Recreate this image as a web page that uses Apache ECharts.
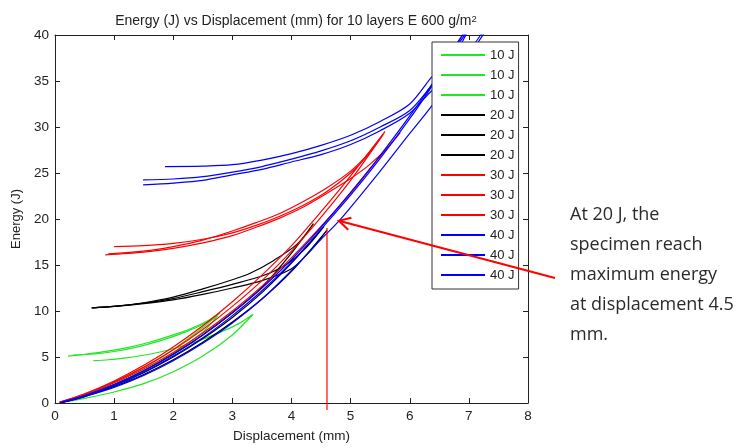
<!DOCTYPE html>
<html>
<head>
<meta charset="utf-8">
<script src="https://cdn.jsdelivr.net/npm/echarts@6/dist/echarts.min.js"></script>
<style>
html,body{margin:0;padding:0;background:#fff;}
#chart{width:740px;height:448px;}
</style>
</head>
<body>
<div id="chart"></div>
<script>
// ---- data (displacement mm, energy J): loading branch then rebound branch ----
const green1 = [[0.08,0.05],[0.5,0.9],[1,2.2],[1.5,3.8],[2,5.8],[2.5,8.2],[2.79,9.8],[2.6,9.0],[2.3,8.1],[2.0,7.4],[1.6,6.6],[1.2,6.0],[0.8,5.55],[0.5,5.3],[0.22,5.1]];
const green2 = [[0.1,0.05],[0.5,0.8],[1,2.0],[1.5,3.5],[2,5.4],[2.5,7.7],[2.75,9.5],[2.55,8.7],[2.2,7.7],[1.8,6.8],[1.4,6.1],[1,5.6],[0.6,5.3],[0.3,5.2]];
const green3 = [[0.12,0.05],[0.5,0.5],[1,1.2],[1.5,2.1],[2,3.4],[2.5,5.1],[3,7.4],[3.35,9.65],[3.1,8.6],[2.8,7.7],[2.4,6.7],[2,5.9],[1.6,5.3],[1.2,4.9],[0.9,4.7],[0.65,4.6]];
const black1 = [[0.08,0.05],[0.5,0.8],[1,2.0],[1.5,3.5],[2,5.3],[2.5,7.4],[3,9.8],[3.5,12.6],[4,16.3],[4.37,19.5],[4.1,17.3],[3.7,15.5],[3.3,14.1],[3.0,13.4],[2.5,12.4],[2,11.5],[1.5,10.9],[1,10.5],[0.62,10.35]];
const black2 = [[0.1,0.05],[0.5,0.7],[1,1.8],[1.5,3.1],[2,4.7],[2.5,6.6],[3,8.8],[3.5,11.3],[4,14.3],[4.6,18.8],[4.3,16.4],[4.0,14.6],[3.5,13.3],[3.0,12.5],[2.5,11.8],[2,11.2],[1.5,10.8],[1,10.5],[0.62,10.35]];
const black3 = [[0.1,0.05],[0.5,0.75],[1,1.9],[1.5,3.3],[2,5.0],[2.5,7.0],[3,9.3],[3.5,12.0],[4,15.2],[4.55,19.2],[4.25,16.9],[3.9,15.0],[3.5,13.8],[3.0,12.9],[2.5,12.1],[2,11.35],[1.5,10.85],[1,10.5],[0.64,10.35]];
const red1 = [[0.08,0.1],[0.5,1.0],[1,2.4],[1.5,4.1],[2,6.1],[2.5,8.4],[3,11.0],[3.5,13.9],[4,17.1],[4.5,20.8],[5,24.7],[5.58,29.5],[5.3,27.0],[5.0,25.0],[4.6,23.0],[4.2,21.5],[3.8,20.3],[3.4,19.3],[3.0,18.5],[2.5,17.8],[2.0,17.35],[1.5,17.1],[1.0,17.0]];
const red2 = [[0.08,0.1],[0.5,0.9],[1,2.2],[1.5,3.7],[2,5.5],[2.5,7.6],[3,10.0],[3.5,12.7],[4,15.8],[4.43,18.7],[5,22.8],[5.5,26.8],[5.84,29.4],[5.6,27.6],[5.3,25.8],[5.0,24.4],[4.6,22.8],[4.2,21.3],[3.8,20.1],[3.4,19.1],[3.0,18.2],[2.5,17.4],[2.0,16.8],[1.5,16.4],[0.85,16.1]];
const red3 = [[0.1,0.1],[0.5,0.95],[1,2.3],[1.5,3.9],[2,5.8],[2.5,8.0],[3,10.5],[3.5,13.3],[4,16.5],[4.5,20.2],[5,24.2],[5.55,29.2],[5.3,27.1],[5.0,25.2],[4.6,23.4],[4.2,21.9],[3.8,20.6],[3.4,19.6],[3.0,18.7],[2.5,17.7],[2.0,17.0],[1.5,16.5],[0.9,16.2]];
const blue1 = [[0.08,0.05],[0.5,0.8],[1,2.0],[1.5,3.5],[2,5.3],[2.5,7.4],[3,9.8],[3.5,12.5],[4,15.6],[4.43,18.6],[5,22.9],[5.5,26.9],[6,31.2],[6.35,34.4],[6.7,38.1],[6.95,40.6],[6.8,39.0],[6.6,36.9],[6.38,35.5],[6.0,32.5],[5.5,30.6],[5.0,29.1],[4.5,28.0],[4.0,27.1],[3.5,26.4],[3.0,25.9],[2.5,25.75],[1.86,25.7]];
const blue2 = [[0.1,0.05],[0.5,0.75],[1,1.9],[1.5,3.35],[2,5.1],[2.5,7.1],[3,9.5],[3.5,12.2],[4,15.3],[4.5,18.9],[5,22.6],[5.5,26.6],[6,30.9],[6.35,34.2],[6.7,37.8],[7.0,40.7],[6.85,38.8],[6.6,36.3],[6.38,34.6],[6.0,31.8],[5.5,30.0],[5.0,28.5],[4.5,27.4],[4.0,26.5],[3.5,25.7],[3.0,25.1],[2.5,24.6],[2.0,24.35],[1.49,24.25]];
const blue3 = [[0.12,0.05],[0.5,0.7],[1,1.7],[1.5,3.0],[2,4.6],[2.5,6.5],[3,8.7],[3.5,11.3],[4,14.4],[4.5,17.8],[4.82,19.9],[5.5,25.2],[6,29.3],[6.35,32.1],[6.8,36.2],[7.2,40.0],[7.3,40.6],[7.0,37.8],[6.7,35.6],[6.38,34.0],[6.0,31.5],[5.5,29.6],[5.0,28.1],[4.5,27.0],[4.0,26.2],[3.5,25.4],[3.0,24.8],[2.5,24.2],[2.0,23.9],[1.49,23.7]];

const seriesNames = ['10 J','10 J','10 J','20 J','20 J','20 J','30 J','30 J','30 J','40 J','40 J','40 J'];
const seriesData = [green1, green2, green3, black1, black2, black3, red1, red2, red3, blue1, blue2, blue3];
const seriesColors = ['#22e622','#22e622','#22e622','#000000','#000000','#000000','#ff0000','#ff0000','#ff0000','#0000ff','#0000ff','#0000ff'];

const xTicks = [0, 8, 1];   // min, max, interval
const yTicks = [0, 40, 5];
const peakMark = [4.6, 18.8];     // vertical marker at displacement 4.5 mm
const arrowTip = [4.8, 19.8];

const FONT = '"Liberation Sans", Arial, sans-serif';
const chart = echarts.init(document.getElementById('chart'), null, {renderer: 'canvas'});

const series = seriesData.map((d, i) => ({
  name: seriesNames[i] + ' #' + (i % 3 + 1),
  type: 'line',
  data: d,
  symbol: 'none',
  smooth: 0.3,
  clip: true,
  animation: false,
  lineStyle: {color: seriesColors[i], width: 1.2},
  itemStyle: {color: seriesColors[i]},
  xAxisIndex: 0, yAxisIndex: 0
}));

const axisCommon = {
  type: 'value',
  splitLine: {show: false},
  axisLine: {show: true, onZero: false, lineStyle: {color: '#222', width: 1}},
  axisTick: {show: true, inside: true, length: 5, lineStyle: {color: '#222'}},
};

chart.setOption({
  animation: false,
  backgroundColor: '#fff',
  title: {
    text: 'Energy (J) vs Displacement (mm) for 10 layers E 600 g/m{sup|2}',
    left: 291, top: 9, textAlign: 'center',
    textStyle: {fontFamily: FONT, fontSize: 14, fontWeight: 'normal', color: '#222',
      rich: {sup: {fontFamily: FONT, fontSize: 9.5, color: '#222', verticalAlign: 'top', lineHeight: 14, padding: [0,0,8,0]}}}
  },
  grid: {left: 55, right: 212, top: 35, bottom: 43},
  xAxis: [
    Object.assign({}, axisCommon, {position: 'bottom', min: xTicks[0], max: xTicks[1], interval: xTicks[2],
      name: 'Displacement (mm)', nameLocation: 'middle', nameGap: 26,
      nameTextStyle: {fontFamily: FONT, fontSize: 13.5, color: '#222'},
      axisLabel: {fontFamily: FONT, fontSize: 13.5, color: '#222', margin: 6}}),
    Object.assign({}, axisCommon, {position: 'top', min: xTicks[0], max: xTicks[1], interval: xTicks[2], axisLabel: {show: false}})
  ],
  yAxis: [
    Object.assign({}, axisCommon, {position: 'left', min: yTicks[0], max: yTicks[1], interval: yTicks[2],
      name: 'Energy (J)', nameLocation: 'middle', nameGap: 28,
      nameTextStyle: {fontFamily: FONT, fontSize: 13, color: '#222'},
      axisLabel: {fontFamily: FONT, fontSize: 13.5, color: '#222', margin: 6}}),
    Object.assign({}, axisCommon, {position: 'right', min: yTicks[0], max: yTicks[1], interval: yTicks[2], axisLabel: {show: false}})
  ],
  legend: {
    orient: 'vertical', left: 432, top: 42,
    padding: [6, 4, 7, 8],
    itemWidth: 44, itemHeight: 14, itemGap: 6,
    backgroundColor: '#fff', borderColor: '#333', borderWidth: 1, borderRadius: 0,
    selectedMode: false,
    itemStyle: {opacity: 0, color: 'rgba(0,0,0,0)', borderWidth: 0},
    formatter: n => n.split(' #')[0],
    textStyle: {fontFamily: FONT, fontSize: 13, color: '#222', lineHeight: 14}
  },
  series: series
});

// annotation overlay
const pBase = chart.convertToPixel({xAxisIndex: 0, yAxisIndex: 0}, [peakMark[0], 0]);
const pTop = chart.convertToPixel({xAxisIndex: 0, yAxisIndex: 0}, peakMark);
const tip = chart.convertToPixel({xAxisIndex: 0, yAxisIndex: 0}, arrowTip);
const tail = [555, 278];
const ang = Math.atan2(tail[1] - tip[1], tail[0] - tip[0]);
const wl = 13, wa = 0.5;
const w1 = [tip[0] + wl * Math.cos(ang + wa), tip[1] + wl * Math.sin(ang + wa)];
const w2 = [tip[0] + wl * Math.cos(ang - wa), tip[1] + wl * Math.sin(ang - wa)];
const red = {stroke: '#f00', lineWidth: 2};

chart.setOption({
  graphic: [
    {type: 'line', z: 100, shape: {x1: pBase[0], y1: pBase[1] + 7, x2: pTop[0], y2: pTop[1] - 2}, style: {stroke: '#f00', lineWidth: 1.2}},
    {type: 'line', z: 100, shape: {x1: tail[0], y1: tail[1], x2: tip[0], y2: tip[1]}, style: red},
    {type: 'polyline', z: 100, shape: {points: [w1, tip, w2]}, style: Object.assign({fill: null}, red)},
    {type: 'text', z: 100, left: 570, top: 200,
      style: {text: 'At 20 J, the\nspecimen reach\nmaximum energy\nat displacement 4.5\nmm.',
        fontFamily: '"Open Sans", "Noto Sans", sans-serif', fontSize: 18, lineHeight: 30, fill: '#2a2a2a'}}
  ]
});
</script>
</body>
</html>
